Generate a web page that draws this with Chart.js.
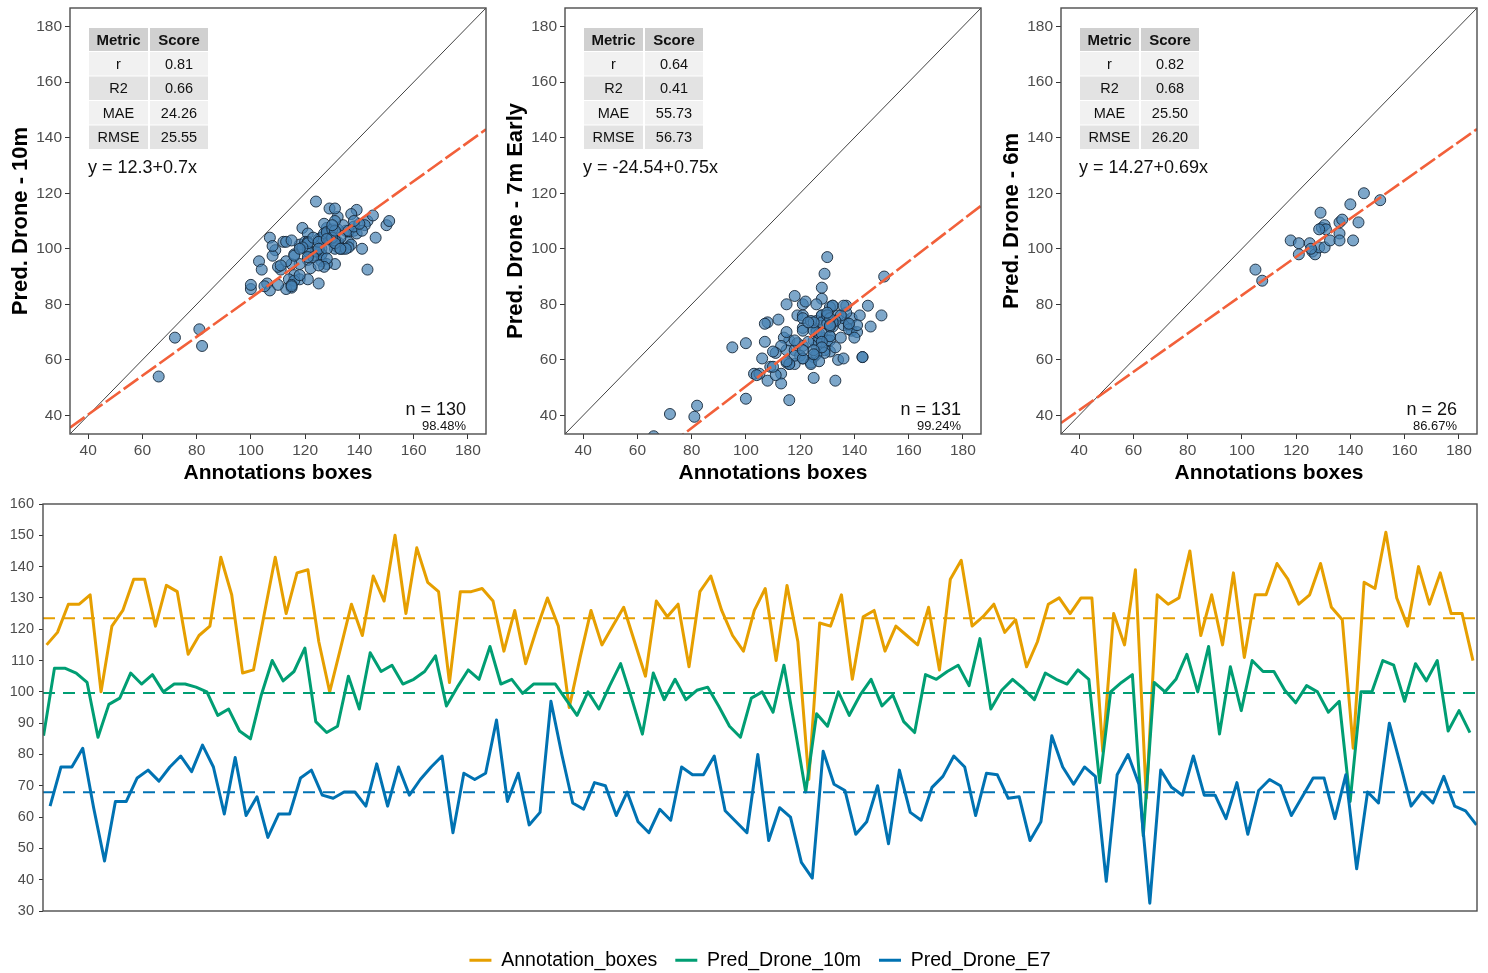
<!DOCTYPE html>
<html>
<head>
<meta charset="utf-8">
<script src="https://cdn.jsdelivr.net/npm/chart.js@4.4.0/dist/chart.umd.min.js"></script>
<style>
  html, body { margin: 0; padding: 0; background: #fff; }
  body { width: 1488px; height: 973px; position: relative; overflow: hidden; }
  canvas { position: absolute; }
</style>
</head>
<body>
<canvas id="sc10" width="495" height="490" style="left:0;top:0"></canvas>
<canvas id="scE7" width="495" height="490" style="left:495px;top:0"></canvas>
<canvas id="sc6" width="495" height="490" style="left:991px;top:0"></canvas>
<canvas id="lines" width="1488" height="490" style="left:0;top:490px"></canvas>
<script>
// ---- data ----
const annotationBoxes = [115,119,128,128,131,100,121,126,136,136,121,134,132,112,118,121,143,131,106,107,
  125,143,125,138,139,116,100,114,128,118,137,129,150,125,146,135,132,103,132,132,
  133,129,113,126,109,120,130,121,95,111,126,115,121,127,116,105,129,124,128,108,
  132,137,126,118,113,126,133,110,134,116,72,122,121,131,104,124,126,113,121,118,
  115,127,107,136,142,121,124,128,119,123,108,116,128,130,125,130,130,81,125,115,
  139,66,131,128,130,145,118,131,115,138,111,131,131,141,136,128,131,141,127,123,
  82,135,133,151,130,121,140,128,138,125,125,110];
// one missing drone-10m value (n = 130); the line simply joins across it
const predDrone10m = [86,107.5,107.5,106,103,85.5,96,98,106,102.5,105.5,100,102.5,102.5,101.5,100,92.5,94.5,87.5,85,
  99,110,103.5,106.5,114,90.5,87,89,105,94.5,112.5,106.5,108.5,102.5,104,106.5,111.5,95.5,101.5,107,
  104,114.5,102.5,104,99.5,102.5,102.5,102.5,null,92.5,100,94.5,102,109,98,86.5,106,97.5,104,97.5,
  100.5,101.5,95.5,89,85.5,98,100,93.5,108.5,88.5,68,93,89,100,92.5,99,104,95.5,99,90.5,
  87,105.5,104,106.5,108.5,102,117,94.5,100.5,104,101,97.5,106,104,102.5,107,104,71,100,103,
  105.5,54,103,100,104,112,100,114.5,86.5,108,94,110,106.5,106.5,100.5,96.5,102,100,93.5,97,
  65,100,100,110,108.5,97,109,103.5,110,87.5,94,87];
const predDroneE7 = [63.5,76,76,82,63,46,65,65,72.5,75,71.5,76,79.5,74.5,83,76,61,79,60.5,66.5,
  53.5,61,61,72.5,75,67,66,68,68,63.5,77,63.5,76,67,72,76,79.5,55,74,72,
  74,91,65,74,57.5,61.5,97,80,64.5,62.5,71,70,60.5,68,58.5,55,62.5,59,76,73.5,
  73.5,79.5,62,58.5,55,80,52.5,63,60,45.5,40.5,81,70.5,68.5,54.5,58.5,70,51.5,75,61.5,
  59,69.5,73,79.5,76,60.5,74,73.5,66,66.5,52.5,58.5,86,76,70.5,76,73,39.5,73.5,80,
  70.5,32.5,75,69.5,67,79.5,67,67,59.5,71,54.5,68.5,72,70,60.5,66.5,72.5,72.5,59.5,73.5,
  43.5,68,64.5,90,77,63.5,68,64.5,73,63.5,62,57.5];
const seriesNames = ['Annotation_boxes', 'Pred_Drone_10m', 'Pred_Drone_E7'];
const seriesColors = ['#E69F00', '#009E73', '#0072B2'];
const seriesMeans = [123.5, 99.6, 67.9];

// 6 m flight (separate, smaller sample)
const annot6m = [105,107.5,118,121,121,125,126,127,128.5,129,129.5,130.5,131,130.5,132.5,136,137,136,136,140,141,143,145,151,125.5,128.5];
const pred6m = [92.5,88.5,103,102,98,102,99,98,100.5,113,107.5,108.5,107,100.5,103,109.5,110.5,105.5,103,116,103,109.5,120,117.5,100,107];

const scatterTicks = [40, 60, 80, 100, 120, 140, 160, 180];
const scatterRange = [33.3, 186.7];
const tableHeader = ['Metric', 'Score'];
const metricNames = ['r', 'R2', 'MAE', 'RMSE'];
const scores10m = ['0.81', '0.66', '24.26', '25.55'];
const scoresE7 = ['0.64', '0.41', '55.73', '56.73'];
const scores6m = ['0.82', '0.68', '25.50', '26.20'];
const intercepts = [12.3, -24.54, 14.27];
const slopes = [0.7, 0.75, 0.69];
const equations = ['y = 12.3+0.7x', 'y = -24.54+0.75x', 'y = 14.27+0.69x'];
const nLabels = ['n = 130', 'n = 131', 'n = 26'];
const pctLabels = ['98.48%', '99.24%', '86.67%'];
const lineYRange = [30, 160];

// ---- shared look ----
const FONT = "'Liberation Sans', Arial, sans-serif";
Chart.defaults.font.family = FONT;
Chart.defaults.color = '#4d4d4d';
Chart.defaults.animation = false;

const panelBorder = {
  id: 'panelBorder',
  afterDraw(chart) {
    const { ctx, chartArea: a } = chart;
    ctx.save();
    ctx.strokeStyle = '#4d4d4d';
    ctx.lineWidth = 1.4;
    ctx.strokeRect(a.left, a.top, a.right - a.left, a.bottom - a.top);
    ctx.restore();
  }
};

// metrics table + equation + n label inside each scatter panel
const statsTable = {
  id: 'statsTable',
  afterDatasetsDraw(chart, args, o) {
    const { ctx, chartArea: a } = chart;
    const x0 = a.left + 19, y0 = a.top + 20;
    const colW = [59, 58], cols = [x0, x0 + 61];
    const headH = 23, rowH = 23.5, gap = 1;
    ctx.save();
    ctx.textAlign = 'center';
    ctx.textBaseline = 'middle';
    ctx.fillStyle = '#d0d0d0';
    cols.forEach((cx, j) => ctx.fillRect(cx, y0, colW[j], headH));
    ctx.fillStyle = '#111';
    ctx.font = 'bold 15px ' + FONT;
    tableHeader.forEach((t, j) => ctx.fillText(t, cols[j] + colW[j] / 2, y0 + headH / 2 + 1));
    ctx.font = '14.5px ' + FONT;
    metricNames.forEach((name, i) => {
      const ry = y0 + headH + gap + i * (rowH + gap);
      ctx.fillStyle = i % 2 === 0 ? '#f1f1f1' : '#e3e3e3';
      cols.forEach((cx, j) => ctx.fillRect(cx, ry, colW[j], rowH));
      ctx.fillStyle = '#111';
      ctx.fillText(name, cols[0] + colW[0] / 2, ry + rowH / 2 + 1);
      ctx.fillText(o.scores[i], cols[1] + colW[1] / 2, ry + rowH / 2 + 1);
    });
    ctx.textAlign = 'left';
    ctx.font = '18px ' + FONT;
    ctx.fillText(o.equation, a.left + 18, a.top + 160);
    ctx.textAlign = 'right';
    ctx.fillText(o.n, a.right - 20, a.top + 402);
    ctx.font = '13px ' + FONT;
    ctx.fillText(o.pct, a.right - 20, a.top + 418);
    ctx.restore();
  }
};

function noPad(s) { s.paddingTop = 0; s.paddingBottom = 0; s.paddingLeft = 0; s.paddingRight = 0; }

function scatterChart(id, k, yTitle, xs, ys, scores) {
  const lo = scatterRange[0], hi = scatterRange[1];
  const pts = [];
  xs.forEach((x, i) => { if (ys[i] !== null) pts.push({ x: x, y: ys[i] }); });
  new Chart(document.getElementById(id), {
    type: 'scatter',
    data: {
      datasets: [
        {
          type: 'line',
          data: [{ x: lo, y: intercepts[k] + slopes[k] * lo }, { x: hi, y: intercepts[k] + slopes[k] * hi }],
          borderColor: '#F2603A', borderWidth: 2.6, borderDash: [18, 4],
          pointRadius: 0, order: 0
        },
        {
          type: 'line',
          data: [{ x: lo, y: lo }, { x: hi, y: hi }],
          borderColor: '#111', borderWidth: 0.8, pointRadius: 0, order: 1
        },
        {
          data: pts,
          backgroundColor: 'rgba(70,130,180,0.7)',
          borderColor: 'rgba(22,40,58,0.9)', borderWidth: 1,
          pointRadius: 5.5, order: 2
        }
      ]
    },
    options: {
      responsive: false,
      layout: { padding: { left: 0, top: 8, right: 9, bottom: 0 } },
      plugins: {
        legend: { display: false },
        tooltip: { enabled: false },
        statsTable: { scores: scores, equation: equations[k], n: nLabels[k], pct: pctLabels[k] }
      },
      scales: {
        x: {
          type: 'linear', min: lo, max: hi,
          afterBuildTicks: s => { s.ticks = scatterTicks.map(v => ({ value: v })); },
          afterFit: s => { s.height = 56; noPad(s); },
          grid: { drawOnChartArea: false, tickLength: 5, tickColor: '#333' },
          border: { display: false },
          ticks: { color: '#4d4d4d', font: { size: 15.5 }, padding: 2, maxRotation: 0 },
          title: { display: true, text: 'Annotations boxes', color: '#000',
                   font: { size: 21, weight: 'bold' }, padding: { top: 0, bottom: 4 } }
        },
        y: {
          type: 'linear', min: lo, max: hi,
          afterBuildTicks: s => { s.ticks = scatterTicks.map(v => ({ value: v })); },
          afterFit: s => { s.width = 70; noPad(s); },
          grid: { drawOnChartArea: false, tickLength: 5, tickColor: '#333' },
          border: { display: false },
          ticks: { color: '#4d4d4d', font: { size: 15.5 }, padding: 3 },
          title: { display: true, text: yTitle, color: '#000',
                   font: { size: 22, weight: 'bold' }, padding: { top: 7.5, bottom: 0 } }
        }
      }
    },
    plugins: [panelBorder, statsTable]
  });
}

scatterChart('sc10', 0, 'Pred. Drone - 10m', annotationBoxes, predDrone10m, scores10m);
scatterChart('scE7', 1, 'Pred. Drone - 7m Early', annotationBoxes, predDroneE7, scoresE7);
scatterChart('sc6', 2, 'Pred. Drone - 6m', annot6m, pred6m, scores6m);

// ---- bottom: the three series in sample order ----
const allSeries = [annotationBoxes, predDrone10m, predDroneE7];
const dodge = [0.28, 0, 0.6];
const xMin = -0.05, xMax = 131.65;

const lineSets = allSeries.map((vals, s) => ({
  label: seriesNames[s],
  data: vals.map((v, i) => ({ x: i + dodge[s], y: v })),
  borderColor: seriesColors[s],
  borderWidth: 3,
  borderJoinStyle: 'round',
  pointRadius: 0,
  spanGaps: true,
  order: 5 - s
}));
const meanSets = seriesMeans.map((m, s) => ({
  label: seriesNames[s] + ' mean',
  data: [{ x: xMin, y: m }, { x: xMax, y: m }],
  borderColor: seriesColors[s],
  borderWidth: 2,
  borderDash: [12, 8],
  pointRadius: 0,
  order: s
}));

new Chart(document.getElementById('lines'), {
  type: 'line',
  data: { datasets: lineSets.concat(meanSets) },
  options: {
    responsive: false,
    layout: { padding: { left: 0, top: 14, right: 11, bottom: 0 } },
    plugins: {
      tooltip: { enabled: false },
      legend: {
        position: 'bottom',
        fullSize: false,
        labels: {
          boxWidth: 22, boxHeight: 3, padding: 18,
          color: '#1a1a1a', font: { size: 19.5 },
          generateLabels: () => seriesNames.map((name, i) => ({
            text: name, fillStyle: seriesColors[i], strokeStyle: seriesColors[i],
            lineWidth: 0, hidden: false, datasetIndex: i
          }))
        }
      }
    },
    scales: {
      x: {
        type: 'linear', min: xMin, max: xMax,
        ticks: { display: false },
        grid: { display: false },
        border: { display: false },
        afterFit: s => { s.height = 21.5; noPad(s); }
      },
      y: {
        type: 'linear', min: lineYRange[0], max: lineYRange[1],
        ticks: { stepSize: 10, color: '#4d4d4d', font: { size: 14.5 }, padding: 5 },
        grid: { drawOnChartArea: false, tickLength: 4, tickColor: '#333' },
        border: { display: false },
        afterFit: s => { s.width = 43; noPad(s); }
      }
    }
  },
  plugins: [panelBorder]
});
</script>
</body>
</html>
